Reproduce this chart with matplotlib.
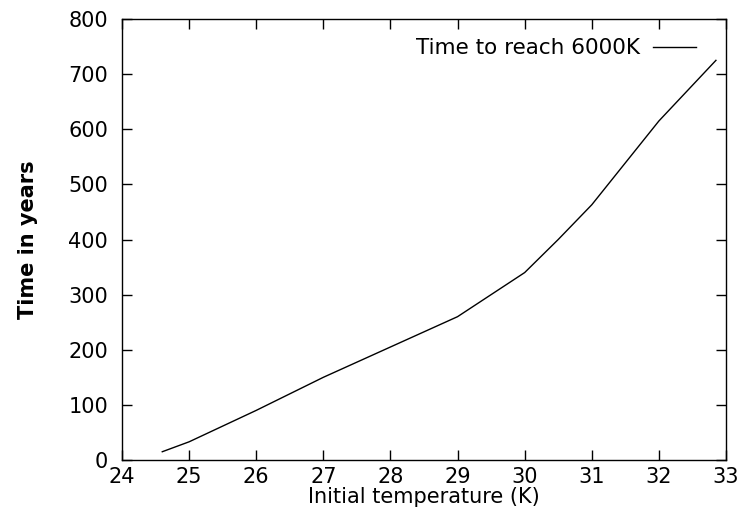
import matplotlib.pyplot as plt

# initial temperature (K) vs time to reach 6000K (years)
temps = [24.6, 25, 26, 27, 28, 29, 30, 30.5, 31, 32, 32.85]
years = [15, 33, 90, 150, 205, 260, 340, 400, 463, 615, 725]

plt.rcParams['font.family'] = ['DejaVu Sans']

fig = plt.figure(figsize=(7.42, 5.16), dpi=100)
ax = fig.add_axes([122 / 742, 1 - 460 / 516, 604 / 742, 441 / 516])

ax.plot(temps, years, color='black', lw=1, label='Time to reach 6000K')

ax.set_xlim(24, 33)
ax.set_ylim(0, 800)
ax.set_xticks(range(24, 34))
ax.set_yticks(range(0, 801, 100))
ax.tick_params(direction='in', top=True, right=True, length=7, width=1,
               labelsize=15)
ax.tick_params(axis='y', pad=10)
ax.tick_params(axis='x', pad=5)
for s in ax.spines.values():
    s.set_linewidth(1)

ax.set_xlabel('Initial temperature (K)', fontsize=15, labelpad=0)
ax.set_ylabel('Time in years', fontsize=15, fontweight='bold', labelpad=22)

ax.legend(loc='upper right', bbox_to_anchor=(0.983, 1.0), frameon=False,
          fontsize=15.5, handlelength=2.0, markerfirst=False,
          borderaxespad=0.5, handletextpad=0.6)

plt.savefig('out.png')
